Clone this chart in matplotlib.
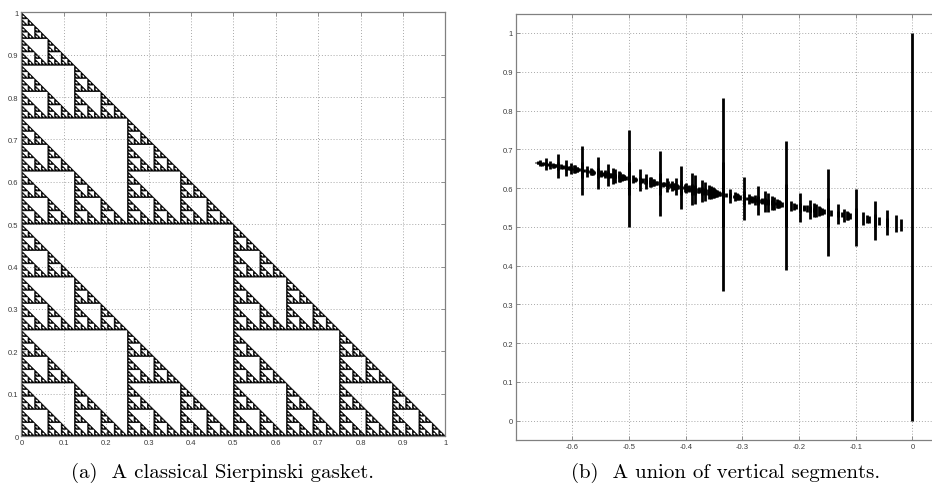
import numpy as np
import matplotlib
matplotlib.use("Agg")
import matplotlib.pyplot as plt
from matplotlib.collections import PolyCollection, LineCollection

# (a) Sierpinski gasket: corner points and recursion depth
gasket_corners = [(0.0, 0.0), (1.0, 0.0), (0.0, 1.0)]
gasket_depth = 7

# (b) vertical segments: base segment at x=0 and the two contractions
# seen in the picture, each as x' = a*x + b, y' = c*y + d
base_x = 0.0
base_y = (0.0, 1.0)
map_g = (2/3, 0.0, 2/3, 1/6)
map_h = (1/2, -1/3, 1/2, 1/3)
seg_depth = 8

ticks_a = np.round(np.arange(0, 1.01, 0.1), 1)
labels_a = ['0', '0.1', '0.2', '0.3', '0.4', '0.5', '0.6', '0.7', '0.8', '0.9', '1']
xticks_b = np.round(np.arange(-0.6, 0.01, 0.1), 1)
xlabels_b = ['-0.6', '-0.5', '-0.4', '-0.3', '-0.2', '-0.1', '0']
yticks_b = ticks_a
ylabels_b = labels_a

caption_a = '(a)  A classical Sierpinski gasket.'
caption_b = '(b)  A union of vertical segments.'


def gasket(tri, depth):
    if depth == 0:
        return [tri]
    a, b, c = [np.array(p) for p in tri]
    ab, bc, ca = (a + b) / 2, (b + c) / 2, (c + a) / 2
    out = []
    for t in ((a, ab, ca), (ab, b, bc), (ca, bc, c)):
        out += gasket(t, depth - 1)
    return out


def segments():
    todo = [(base_x, base_y[0], base_y[1], 0)]
    segs = []
    while todo:
        x, y0, y1, k = todo.pop()
        segs.append([(x, y0), (x, y1)])
        if k >= seg_depth:
            continue
        for a, b, c, d in (map_g, map_h):
            nx = a * x + b
            if nx == x:
                continue  # lies inside the base segment
            todo.append((nx, c * y0 + d, c * y1 + d, k + 1))
    return segs


def style(ax):
    for s in ax.spines.values():
        s.set_color('#808080')
        s.set_linewidth(0.9)
    ax.tick_params(direction='in', top=True, right=True, length=3, width=0.6,
                   colors='#808080', labelcolor='#3a3a3a', labelsize=5.5, pad=2)
    ax.grid(True, color='#a8a8a8', linestyle=(0, (1, 2)), linewidth=0.7)
    ax.set_axisbelow(True)
    for lab in ax.get_xticklabels() + ax.get_yticklabels():
        lab.set_family('Liberation Sans')


fig = plt.figure(figsize=(9.32, 4.89), dpi=100)

ax1 = fig.add_axes([0.0229, 0.1063, 0.455, 0.8665])
tris = gasket(gasket_corners, gasket_depth)
pc = PolyCollection(tris, facecolor='black', edgecolor='black', linewidth=0.35)
ax1.add_collection(pc)
ax1.set_xlim(0, 1)
ax1.set_ylim(0, 1)
ax1.set_xticks(ticks_a)
ax1.set_xticklabels(labels_a)
ax1.set_yticks(ticks_a)
ax1.set_yticklabels(labels_a)
style(ax1)

ax2 = fig.add_axes([0.5533, 0.0980, 0.456, 0.8722])
lc = LineCollection(segments(), colors='black', linewidths=2.0, capstyle='butt')
ax2.add_collection(lc)
ax2.set_xlim(-0.7, 0.05)
ax2.set_ylim(-0.05, 1.05)
ax2.set_xticks(xticks_b)
ax2.set_xticklabels(xlabels_b)
ax2.set_yticks(yticks_b)
ax2.set_yticklabels(ylabels_b)
style(ax2)

fig.text(0.239, 0.033, caption_a, family='cmr10', fontsize=15, ha='center', va='center')
fig.text(0.778, 0.033, caption_b, family='cmr10', fontsize=15, ha='center', va='center')

fig.savefig('out.png', dpi=100)
